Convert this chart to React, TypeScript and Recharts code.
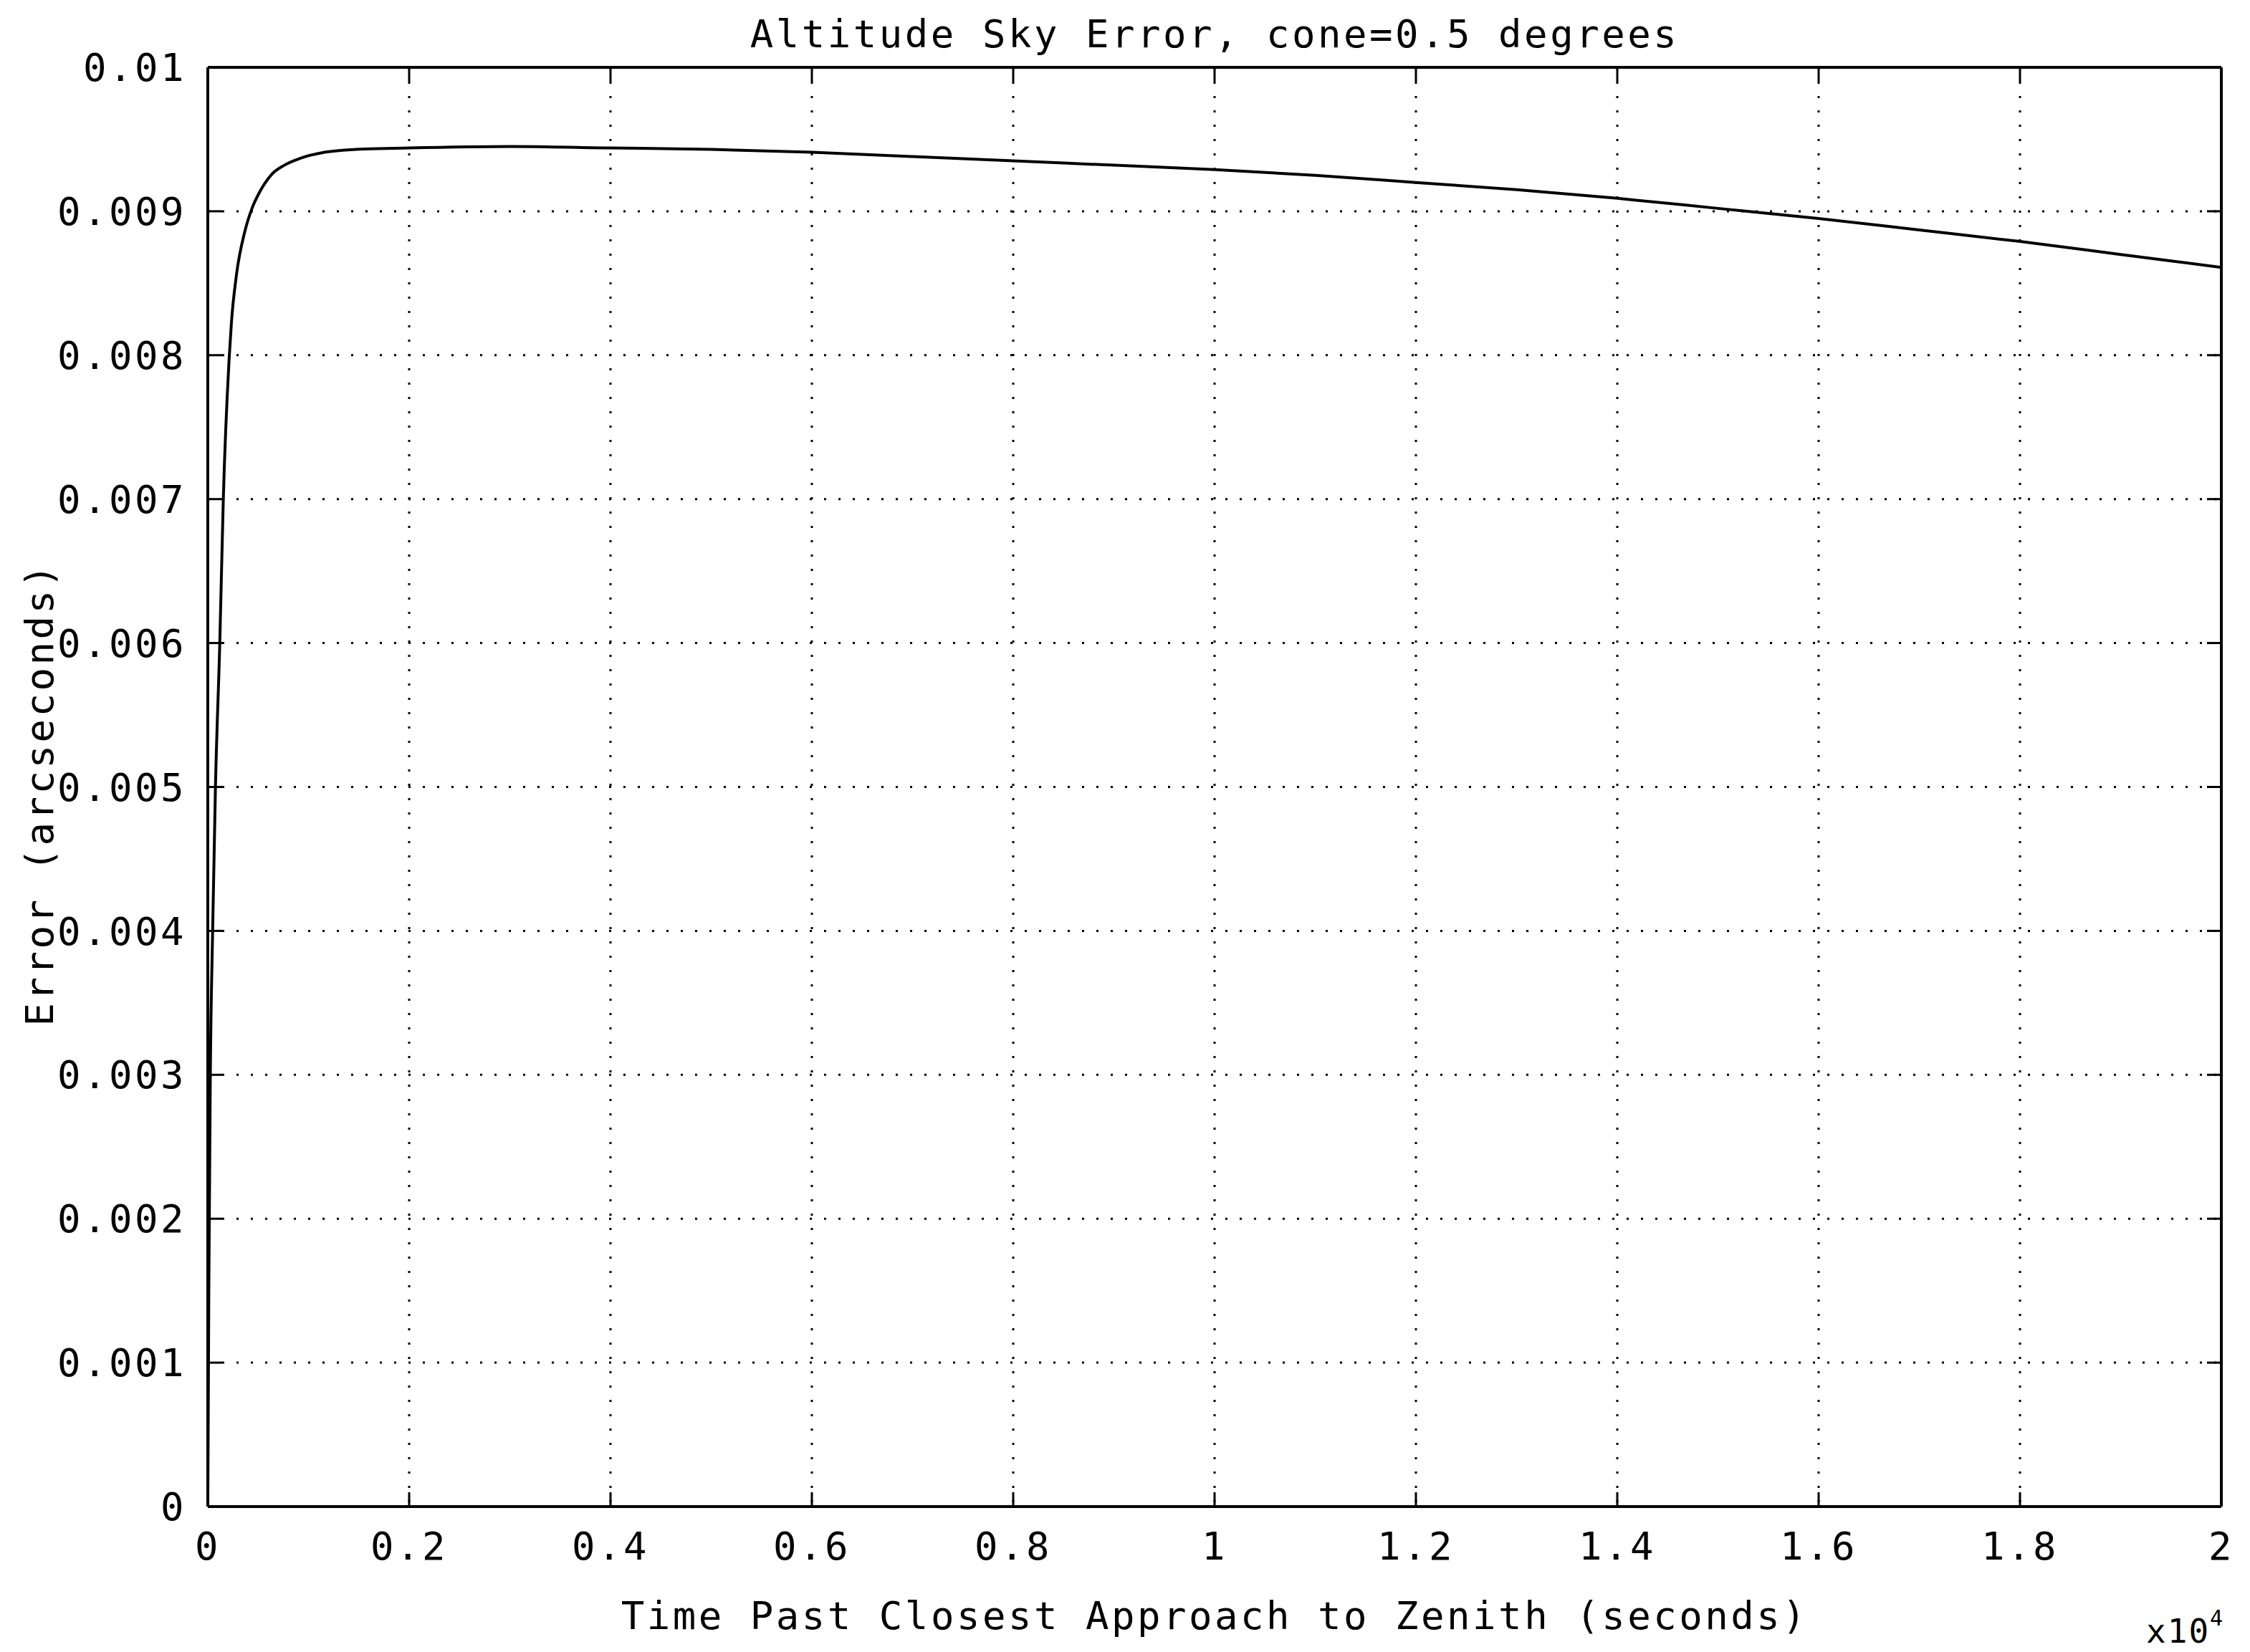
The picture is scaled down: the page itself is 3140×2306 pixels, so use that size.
import React from "react";
import { LineChart, Line, XAxis, YAxis, CartesianGrid, Label } from "recharts";

// time in seconds, error in arcseconds
const timeSec = [
  0, 10, 25, 48, 76, 119, 154, 214, 235, 285, 368, 439, 520, 640, 760, 925,
  1160, 1470, 2000, 3000, 4000, 5000, 6000, 7000, 8000, 9000, 10000, 11000,
  12000, 13000, 14000, 15000, 16000, 17000, 18000, 19000, 20000,
];
const errorArcsec = [
  0, 0.0015, 0.003, 0.004, 0.005, 0.006, 0.007, 0.008, 0.00823, 0.00856,
  0.00886, 0.00902, 0.00914, 0.00926, 0.00932, 0.00937, 0.00941, 0.00943,
  0.00944, 0.00945, 0.00944, 0.00943, 0.00941, 0.00938, 0.00935, 0.00932,
  0.00929, 0.00925, 0.0092, 0.00915, 0.00909, 0.00902, 0.00895, 0.00887,
  0.00879, 0.0087, 0.00861,
];

const xTicks = [0, 2000, 4000, 6000, 8000, 10000, 12000, 14000, 16000, 18000, 20000];
const xTickLabels = ["0", "0.2", "0.4", "0.6", "0.8", "1", "1.2", "1.4", "1.6", "1.8", "2"];
const yTicks = [0, 0.001, 0.002, 0.003, 0.004, 0.005, 0.006, 0.007, 0.008, 0.009, 0.01];
const yTickLabels = ["0", "0.001", "0.002", "0.003", "0.004", "0.005", "0.006", "0.007", "0.008", "0.009", "0.01"];

const chartTitle = "Altitude Sky Error, cone=0.5 degrees";
const xLabel = "Time Past Closest Approach to Zenith (seconds)";
const yLabel = "Error (arcseconds)";
const xScaleBase = "x10";
const xScaleExp = "4";

const data = timeSec.map((t, i) => ({ t, err: errorArcsec[i] }));

const FONT = "'DejaVu Sans Mono', monospace";
const textStyle = { fontFamily: FONT, fontSize: 54, letterSpacing: 3.5, fill: "#000" };

const App = () => {
  const xFmt = (v: number) => xTickLabels[xTicks.indexOf(v)] ?? "";
  const yFmt = (v: number) => yTickLabels[yTicks.indexOf(v)] ?? "";
  const blank = () => "";

  return (
    <div style={{ position: "absolute", left: 0, top: 0, background: "#fff" }}>
      <LineChart
        width={3140}
        height={2306}
        data={data}
        margin={{ top: 0, right: 0, bottom: 0, left: 0 }}
      >
        <CartesianGrid
          stroke="#000"
          strokeWidth={3}
          strokeDasharray="3 17"
          horizontalValues={yTicks}
          verticalValues={xTicks}
        />
        <XAxis
          dataKey="t"
          type="number"
          domain={[0, 20000]}
          ticks={xTicks}
          allowDataOverflow
          height={203}
          tickFormatter={xFmt}
          tickSize={-20}
          tickMargin={56}
          tick={textStyle}
          axisLine={{ stroke: "#000", strokeWidth: 4 }}
          tickLine={{ stroke: "#000", strokeWidth: 3 }}
        >
          <Label
            content={({ viewBox }: any) => (
              <g>
                <text
                  x={viewBox.x + viewBox.width / 2}
                  y={viewBox.y + 171}
                  textAnchor="middle"
                  style={textStyle}
                >
                  {xLabel}
                </text>
                <text x={viewBox.x + viewBox.width - 105} y={viewBox.y + 190} style={{ ...textStyle, fontSize: 46, letterSpacing: 2 }}>
                  {xScaleBase}
                  <tspan fontSize={30} dy={-24}>
                    {xScaleExp}
                  </tspan>
                </text>
              </g>
            )}
          />
        </XAxis>
        <XAxis
          xAxisId="top"
          orientation="top"
          dataKey="t"
          type="number"
          domain={[0, 20000]}
          ticks={xTicks}
          allowDataOverflow
          height={94}
          tickFormatter={blank}
          tickSize={-20}
          axisLine={{ stroke: "#000", strokeWidth: 4 }}
          tickLine={{ stroke: "#000", strokeWidth: 3 }}
        >
          <Label
            content={({ viewBox }: any) => (
              <text
                x={viewBox.x + viewBox.width / 2}
                y={66}
                textAnchor="middle"
                style={textStyle}
              >
                {chartTitle}
              </text>
            )}
          />
        </XAxis>
        <YAxis
          type="number"
          domain={[0, 0.01]}
          ticks={yTicks}
          allowDataOverflow
          width={290}
          tickFormatter={yFmt}
          tickSize={-20}
          tickMargin={50}
          tick={textStyle}
          axisLine={{ stroke: "#000", strokeWidth: 4 }}
          tickLine={{ stroke: "#000", strokeWidth: 3 }}
        >
          <Label
            content={({ viewBox }: any) => {
              const cx = 74;
              const cy = viewBox.y + viewBox.height / 2 + 10;
              return (
                <text
                  x={cx}
                  y={cy}
                  textAnchor="middle"
                  transform={`rotate(-90, ${cx}, ${cy})`}
                  style={textStyle}
                >
                  {yLabel}
                </text>
              );
            }}
          />
        </YAxis>
        <YAxis
          yAxisId="right"
          orientation="right"
          type="number"
          domain={[0, 0.01]}
          ticks={yTicks}
          allowDataOverflow
          width={40}
          tickFormatter={blank}
          tickSize={-20}
          axisLine={{ stroke: "#000", strokeWidth: 4 }}
          tickLine={{ stroke: "#000", strokeWidth: 3 }}
        />
        <Line
          type="monotone"
          dataKey="err"
          stroke="#000"
          strokeWidth={4}
          dot={false}
          isAnimationActive={false}
        />
      </LineChart>
    </div>
  );
};

export default App;
